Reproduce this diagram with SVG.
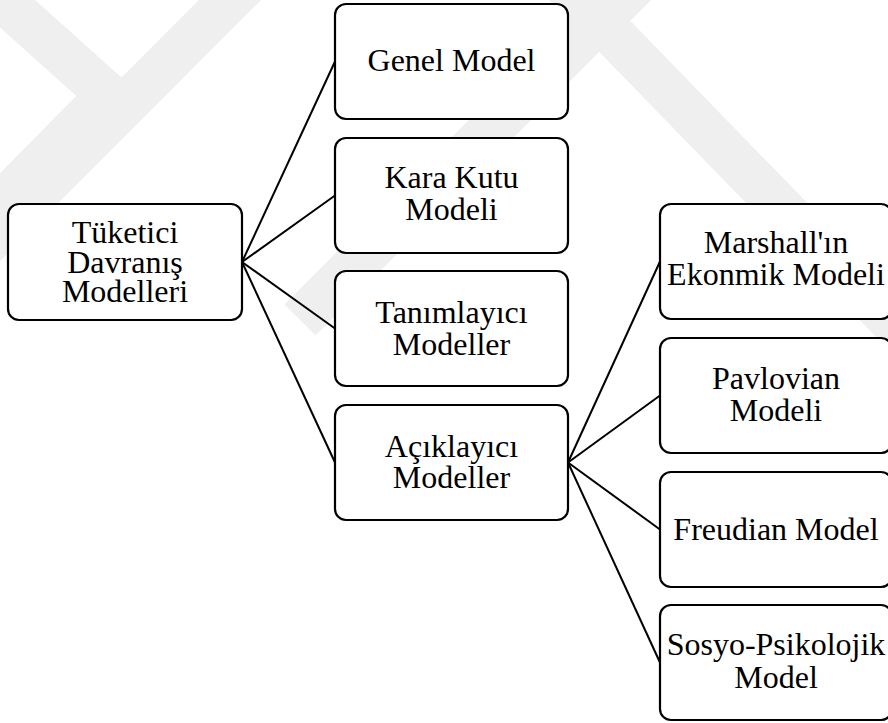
<svg xmlns="http://www.w3.org/2000/svg" width="888" height="723" viewBox="0 0 888 723">
  <style>
    .box { fill: #ffffff; stroke: #000000; stroke-width: 2.2; }
    .lbl { font-family: "Liberation Serif", "Times New Roman", serif; font-size: 32px; fill: #000000; text-anchor: middle; }
    .link { stroke: #000000; stroke-width: 2; fill: none; }
    .mark { stroke: #efefef; stroke-width: 44; fill: none; stroke-linecap: butt; stroke-linejoin: miter; }
  </style>
  <rect x="0" y="0" width="888" height="723" fill="#ffffff"/>

  <!-- faint background logo bands -->
  <g id="backdrop">
    <polyline class="mark" points="-20,-20 108,95 -40,245"/>
    <line class="mark" x1="250" y1="-20" x2="-40" y2="270"/>
    <line class="mark" x1="640" y1="-20" x2="300" y2="320"/>
    <line class="mark" x1="560" y1="-20" x2="900" y2="330"/>
  </g>

  <!-- connectors -->
  <g id="connectors">
    <line class="link" x1="242" y1="262" x2="335" y2="61.5"/>
    <line class="link" x1="242" y1="262" x2="335" y2="195.5"/>
    <line class="link" x1="242" y1="262" x2="335" y2="328.5"/>
    <line class="link" x1="242" y1="262" x2="335" y2="462.5"/>
    <line class="link" x1="568" y1="462.5" x2="660" y2="261.5"/>
    <line class="link" x1="568" y1="462.5" x2="660" y2="395.5"/>
    <line class="link" x1="568" y1="462.5" x2="660" y2="529.5"/>
    <line class="link" x1="568" y1="462.5" x2="660" y2="662.5"/>
  </g>

  <g id="n-tuketici">
    <rect class="box" x="8" y="204" width="234" height="116" rx="11"/>
    <text class="lbl" x="125" y="243">Tüketici</text>
    <text class="lbl" x="125" y="273">Davranış</text>
    <text class="lbl" x="125" y="302">Modelleri</text>
  </g>

  <g id="n-genel">
    <rect class="box" x="335" y="4" width="233" height="115" rx="11"/>
    <text class="lbl" x="451.5" y="71">Genel Model</text>
  </g>

  <g id="n-karakutu">
    <rect class="box" x="335" y="138" width="233" height="115" rx="11"/>
    <text class="lbl" x="451.5" y="188">Kara Kutu</text>
    <text class="lbl" x="451.5" y="220">Modeli</text>
  </g>

  <g id="n-tanimlayici">
    <rect class="box" x="335" y="271" width="233" height="115" rx="11"/>
    <text class="lbl" x="451.5" y="323">Tanımlayıcı</text>
    <text class="lbl" x="451.5" y="355">Modeller</text>
  </g>

  <g id="n-aciklayici">
    <rect class="box" x="335" y="405" width="233" height="115" rx="11"/>
    <text class="lbl" x="451.5" y="457">Açıklayıcı</text>
    <text class="lbl" x="451.5" y="488">Modeller</text>
  </g>

  <g id="n-marshall">
    <rect class="box" x="660" y="204" width="232" height="115" rx="11"/>
    <text class="lbl" x="776" y="253">Marshall'ın</text>
    <text class="lbl" x="776" y="285">Ekonmik Modeli</text>
  </g>

  <g id="n-pavlovian">
    <rect class="box" x="660" y="338" width="232" height="115" rx="11"/>
    <text class="lbl" x="776" y="389">Pavlovian</text>
    <text class="lbl" x="776" y="421">Modeli</text>
  </g>

  <g id="n-freudian">
    <rect class="box" x="660" y="472" width="232" height="115" rx="11"/>
    <text class="lbl" x="776" y="540">Freudian Model</text>
  </g>

  <g id="n-sosyo">
    <rect class="box" x="660" y="605" width="232" height="115" rx="11"/>
    <text class="lbl" x="776" y="655">Sosyo-Psikolojik</text>
    <text class="lbl" x="776" y="688">Model</text>
  </g>
</svg>
